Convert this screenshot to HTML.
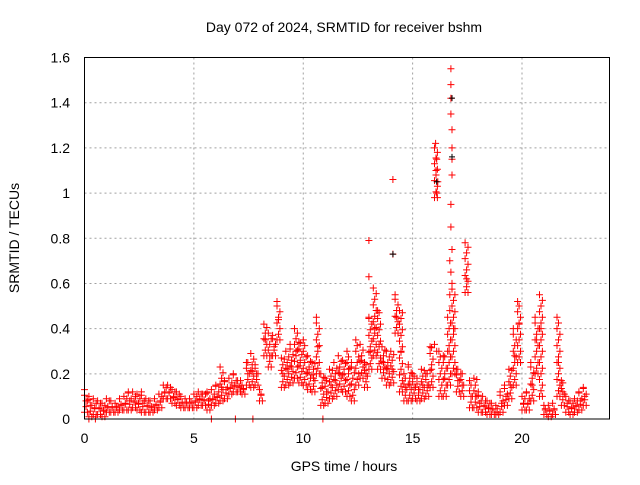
<!DOCTYPE html>
<html><head><meta charset="utf-8"><style>
body{margin:0;background:#fff}
svg text{font-family:"Liberation Sans",sans-serif;font-size:14px;fill:#000}
</style></head><body>
<svg id="chart" width="640" height="480" xmlns="http://www.w3.org/2000/svg">
<text x="344" y="32" text-anchor="middle">Day 072 of 2024, SRMTID for receiver bshm</text>
<text x="344" y="471" text-anchor="middle">GPS time / hours</text>
<text transform="translate(19,238) rotate(-90)" text-anchor="middle">SRMTID / TECUs</text>
<g id="grid"></g>
<g id="ticks"></g>
<g id="marks"></g>
<rect x="84.5" y="57.5" width="525" height="361.5" fill="none" stroke="#000" stroke-width="1"/>
</svg>
<script>
const xTicks=[0,5,10,15,20];
const yTicks=[0,0.2,0.4,0.6,0.8,1,1.2,1.4,1.6];
const yTickLabels=["0","0.2","0.4","0.6","0.8","1","1.2","1.4","1.6"];
const binStart=0, binWidth=0.2;
const hiVals=[.13,.10,.09,.08,.07,.09,.08,.07,.09,.10,.12,.12,.11,.12,.09,.08,.09,.11,.15,.15,.13,.12,.10,.09,.09,.11,.12,.11,.12,.13,.15,.23,.17,.18,.20,.17,.15,.25,.29,.24,.13,.42,.38,.37,.52,.27,.30,.33,.40,.34,.35,.28,.25,.45,.20,.18,.22,.25,.28,.26,.30,.25,.35,.33,.25,.45,.58,.48,.32,.30,.30,.55,.48,.20,.24,.20,.18,.22,.20,.32,1.20,.30,.28,.45,.60,.22,.20,.78,.17,.18,.12,.10,.08,.07,.06,.12,.15,.22,.40,.52,.10,.12,.25,.45,.55,.06,.06,.07,.45,.17,.10,.08,.09,.12,.14];
const midVals=[.08,.06,.05,.05,.04,.05,.05,.05,.06,.07,.08,.08,.07,.07,.06,.05,.06,.08,.12,.12,.10,.09,.07,.07,.07,.08,.09,.08,.08,.09,.10,.14,.13,.14,.15,.14,.13,.20,.21,.20,.11,.35,.28,.32,.44,.20,.22,.23,.30,.25,.25,.22,.18,.32,.14,.12,.15,.17,.20,.20,.22,.18,.25,.26,.20,.30,.40,.33,.25,.22,.22,.45,.30,.14,.15,.14,.13,.15,.15,.22,1.10,.20,.18,.30,.40,.17,.15,.62,.10,.10,.07,.06,.05,.04,.03,.07,.10,.15,.28,.42,.07,.07,.15,.35,.40,.04,.04,.04,.25,.12,.07,.05,.06,.08,.10];
const loVals=[.03,.01,.02,.02,.01,.03,.03,.03,.04,.04,.04,.05,.04,.03,.03,.03,.04,.05,.09,.09,.07,.06,.05,.05,.05,.05,.06,.06,.04,.06,.07,.08,.09,.11,.12,.12,.11,.15,.14,.15,.08,.28,.23,.28,.35,.14,.15,.16,.18,.16,.15,.13,.12,.20,.06,.07,.09,.10,.13,.12,.10,.08,.15,.18,.14,.22,.28,.22,.18,.15,.16,.38,.12,.08,.08,.09,.08,.09,.10,.14,.98,.10,.10,.15,.20,.12,.10,.56,.05,.05,.03,.03,.02,.02,.02,.03,.06,.09,.15,.25,.04,.04,.08,.20,.10,.02,.01,.02,.10,.06,.03,.02,.03,.04,.06];
const spikeTimes=[13.0,13.0,14.1,14.1,16.05,16.1,16.15,16.1,16.0,16.1,16.75,16.75,16.75,16.75,16.8,16.8,16.8,16.8,16.75,16.75,16.8,16.75,16.7,16.7,16.7,0.2,0.5,5.8,6.9,7.7,10.9];
const spikeVals=[0.79,0.63,1.06,0.73,1.22,1.15,1.05,1.0,0.33,0.30,1.55,1.48,1.42,1.35,1.28,1.2,1.15,1.08,0.95,0.85,0.75,0.65,0.55,0.48,0.70,0,0,0,0,0,0];
const blackTimes=[16.8,16.8,14.1,16.1];
const blackVals=[1.42,1.16,0.73,1.05];

const X0=84.5,X1=609.5,Y0=419,Y1=57.5,XMAX=24,YMAX=1.6;
const sx=v=>X0+(X1-X0)*v/XMAX;
const sy=v=>Y0-(Y0-Y1)*v/YMAX;
const NS="http://www.w3.org/2000/svg";
const grid=document.getElementById('grid'),ticks=document.getElementById('ticks'),marks=document.getElementById('marks');
function mk(tag,attrs,parent){const e=document.createElementNS(NS,tag);for(const k in attrs)e.setAttribute(k,attrs[k]);parent.appendChild(e);return e;}
xTicks.forEach(t=>{
  const x=sx(t);
  if(t>0){const g=mk('line',{x1:x,x2:x,y1:Y1,y2:Y0,stroke:'#a0a0a0','stroke-dasharray':'2,3'},grid);
  
  }
  const l=mk('text',{x:x,y:443,'text-anchor':'middle'},ticks);l.textContent=String(t);
  
  
});
yTicks.forEach((t,i)=>{
  const y=sy(t);
  if(t>0&&t<YMAX){const g=mk('line',{x1:X0,x2:X1,y1:y,y2:y,stroke:'#a0a0a0','stroke-dasharray':'2,3'},grid);
  
  }
  const l=mk('text',{x:70,y:y+5,'text-anchor':'end'},ticks);l.textContent=yTickLabels[i];
  
  
});
let d='';
function plus(t,v){const x=sx(t),y=sy(v);d+=`M${(x-3.5).toFixed(1)} ${y.toFixed(1)}h7M${x.toFixed(1)} ${(y-3.5).toFixed(1)}v7`;}
hiVals.forEach((h,i)=>{
  const t=binStart+i*binWidth, m=midVals[i], lo=loVals[i];
  plus(t,h);plus(t+binWidth/3,m);plus(t+2*binWidth/3,lo);
  let k=0;
  for(let v=lo;v<h;v+=0.025){plus(t+(k%3)*binWidth/3,v);k++;}
});
spikeTimes.forEach((t,i)=>plus(t,spikeVals[i]));
const p=mk('path',{d:d,stroke:'#ff0000','stroke-width':1,fill:'none'},marks);


let db='';
blackTimes.forEach((t,i)=>{const x=sx(t),y=sy(blackVals[i]);db+=`M${x-3} ${y}h6M${x} ${y-3}v6`;});
const pb=mk('path',{d:db,stroke:'#000','stroke-width':1,fill:'none'},marks);


</script>
</body></html>
